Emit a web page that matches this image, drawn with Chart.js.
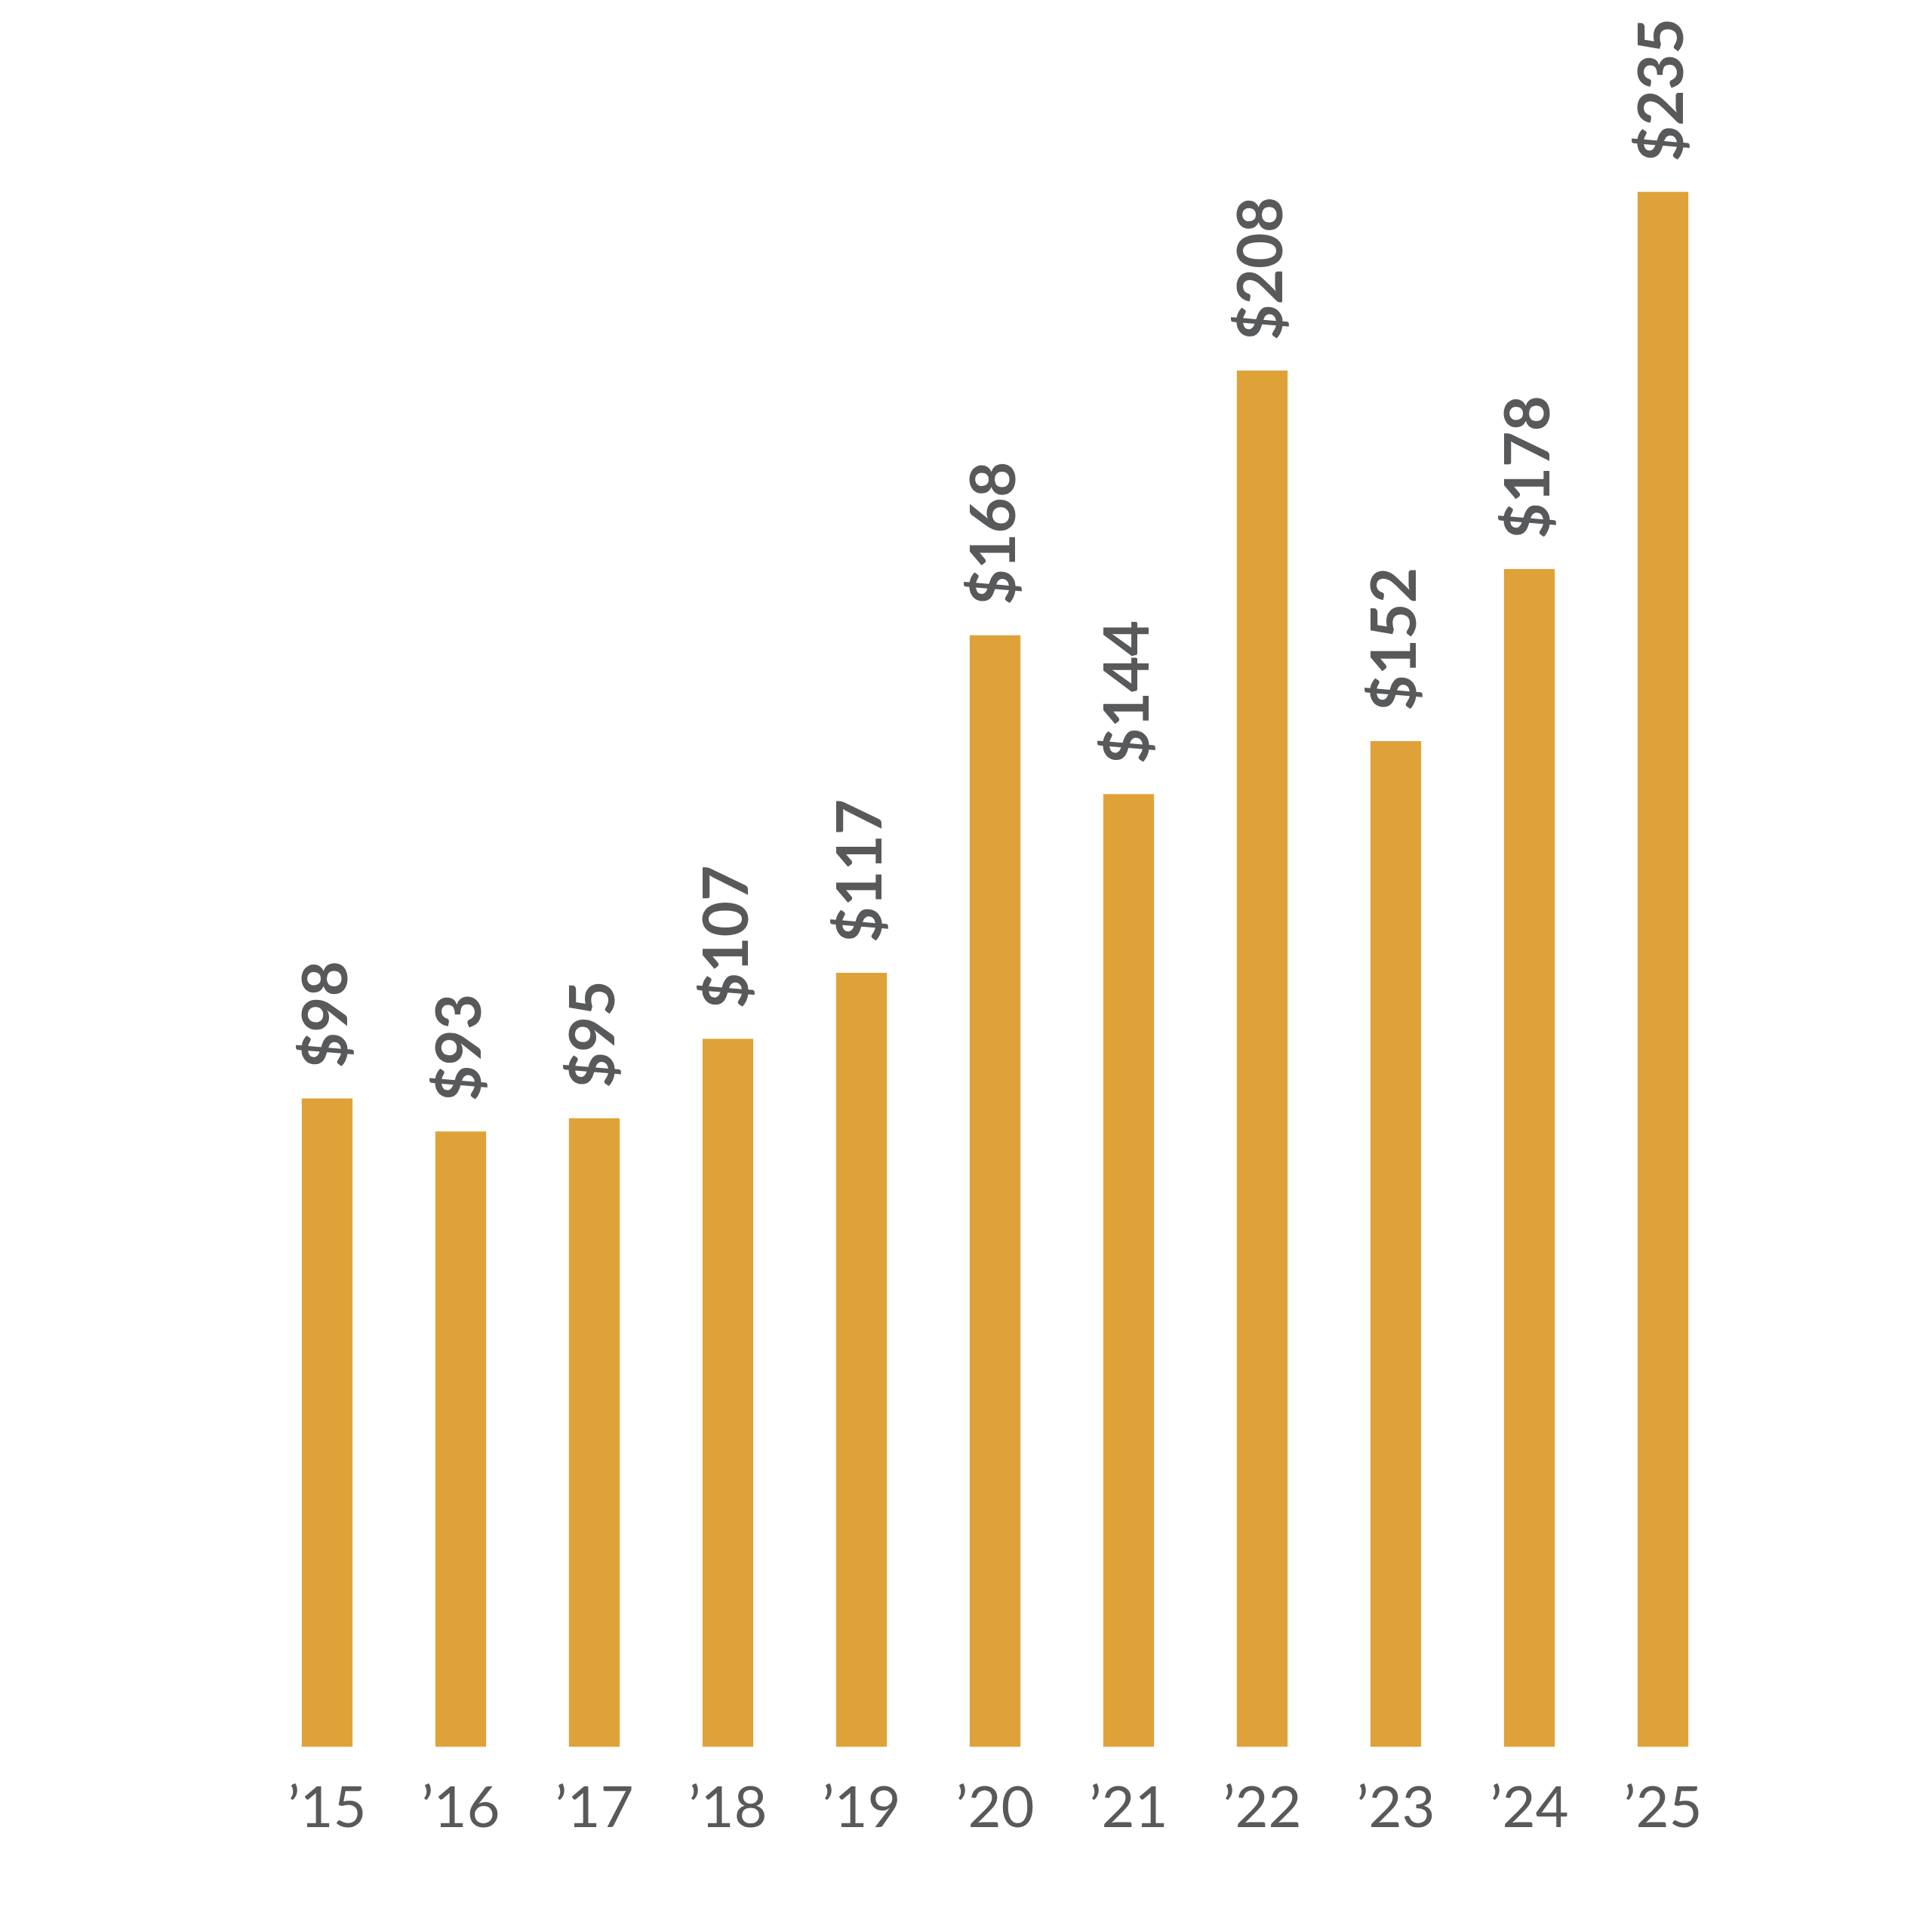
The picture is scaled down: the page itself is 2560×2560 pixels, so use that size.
<!DOCTYPE html>
<html>
<head>
<meta charset="utf-8">
<script src="https://cdn.jsdelivr.net/npm/chart.js@4"></script>
<style>
  html, body { margin: 0; padding: 0; background: #fff; }
  #wrap { width: 2560px; height: 2560px; }
</style>
</head>
<body>
<div id="wrap"><canvas id="chart" width="2560" height="2560"></canvas></div>
<script>
// Values (dollars)
const years = ['\u201915', '\u201916', '\u201917', '\u201918', '\u201919', '\u201920', '\u201921', '\u201922', '\u201923', '\u201924', '\u201925'];
const values = [98, 93, 95, 107, 117, 168, 144, 208, 152, 178, 235];
const valueLabels = ['$98', '$93', '$95', '$107', '$117', '$168', '$144', '$208', '$152', '$178', '$235'];

const gray = '#58595b';
const gold = '#dfa239';

// draws the rotated value label above each bar
const barLabels = {
    id: 'barLabels',
    afterDatasetsDraw(chart) {
        const ctx = chart.ctx;
        const meta = chart.getDatasetMeta(0);
        ctx.save();
        ctx.fillStyle = gray;
        ctx.font = 'bold 82px Lato, "DejaVu Sans", sans-serif';
        ctx.textAlign = 'left';
        ctx.textBaseline = 'middle';
        meta.data.forEach((bar, i) => {
            ctx.save();
            ctx.translate(bar.x, bar.y - 40);
            ctx.rotate(-Math.PI / 2);
            ctx.fillText(valueLabels[i], 0, 0);
            ctx.restore();
        });
        ctx.restore();
    }
};

new Chart(document.getElementById('chart'), {
    type: 'bar',
    data: {
        labels: years,
        datasets: [{
            data: values,
            backgroundColor: gold,
            borderWidth: 0,
            categoryPercentage: 1.0,
            barPercentage: 0.38
        }]
    },
    options: {
        responsive: false,
        animation: false,
        layout: { padding: { left: 345, right: 268, top: 0, bottom: 90 } },
        plugins: { legend: { display: false }, tooltip: { enabled: false } },
        scales: {
            x: {
                grid: { display: false },
                border: { display: false },
                ticks: {
                    color: gray,
                    font: { family: 'Lato, "DejaVu Sans", sans-serif', size: 76 },
                    padding: 28,
                    maxRotation: 0
                }
            },
            y: {
                display: false,
                beginAtZero: true,
                max: 264
            }
        }
    },
    plugins: [barLabels]
});
</script>
</body>
</html>
